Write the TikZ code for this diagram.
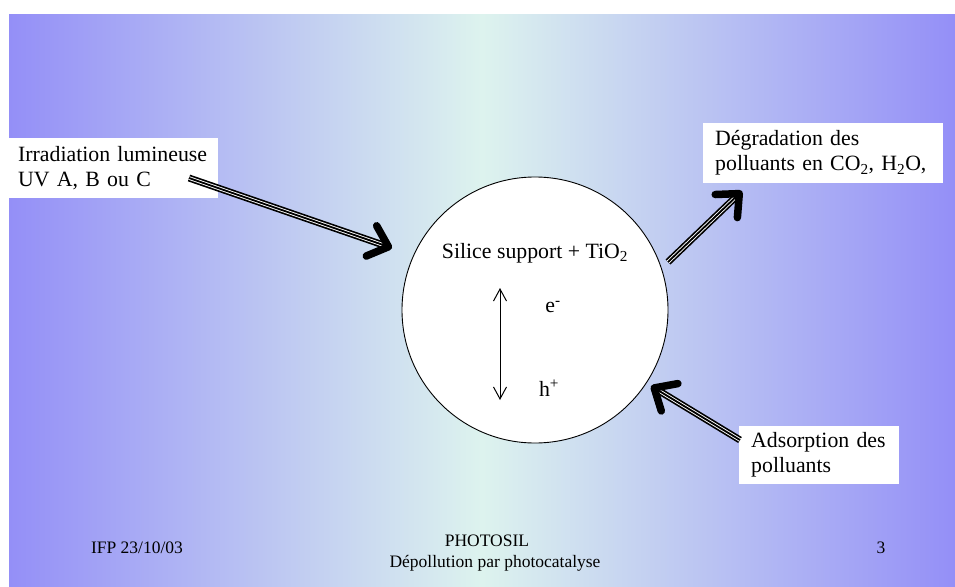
\documentclass[tikz,border=0pt]{standalone}
\usepackage{fontspec}
\setmainfont{Liberation Serif}
\usetikzlibrary{arrows.meta,calc}
\definecolor{edgeblue}{RGB}{148,143,247}
\definecolor{midgreen}{RGB}{221,243,238}
\begin{document}
\begin{tikzpicture}[x=1pt,y=-1pt,
  box/.style={fill=white, anchor=north west, inner ysep=0pt, align=left,
    font=\fontsize{21.8pt}{25pt}\selectfont},
  txt/.style={inner sep=0pt, font=\fontsize{21.8pt}{25pt}\selectfont},
  foot/.style={inner sep=0pt, font=\fontsize{17.5pt}{21pt}\selectfont},
  shaft/.style={draw=black, line width=7pt, shorten >=6pt,
    postaction={draw=white, line width=3.6pt, shorten >=6pt},
    postaction={draw=black, line width=1.8pt, shorten >=6pt}},
  head/.style={draw=black, line width=1pt,
    -{Straight Barb[length=18pt, width=32pt, line width=7.5pt, round]}},
  thinarrow/.style={draw=black, line width=1pt,
    {Straight Barb[length=12pt, width=13pt]}-{Straight Barb[length=12pt, width=13pt]}}
]
\useasboundingbox (0,0) rectangle (955,586);
\fill[white] (0,0) rectangle (955,586);
\shade[left color=edgeblue, right color=edgeblue, middle color=midgreen] (9,15) rectangle (955,586);

% boxes
\node[box, minimum width=209pt, minimum height=60pt, text width=191pt, inner xsep=9pt] (irr) at (9,138)
  {Irradiation~lumineuse\\UV~A,~B~ou~C};
\node[box, minimum width=240pt, minimum height=60pt, text width=216pt, inner xsep=12pt] (deg) at (703,123)
  {Dégradation~des\\polluants~en~CO\textsubscript{2},~H\textsubscript{2}O,};
\node[box, minimum width=160pt, minimum height=58pt, text width=136pt, inner xsep=12pt] (ads) at (739,426)
  {Adsorption~des\\polluants};

% circle
\node[circle, draw=black, fill=white, minimum size=266pt, inner sep=0pt, line width=0.9pt] (cat) at (535,310) {};
\node[txt] (sil) at (535,253) {Silice support + TiO\textsubscript{2}};
\node[txt] (el) at (553,307) {e\textsuperscript{-}};
\node[txt] (ho) at (549,388) {h\textsuperscript{+}};
\coordinate (vt) at (500,288);
\coordinate (vb) at (500,400);
\draw[thinarrow] (vt) -- (vb);

% big arrows
\coordinate (a1s) at (189,178);
\coordinate (a1e) at (392,248);
\coordinate (a2s) at (668,262);
\coordinate (a2e) at (742,191);
\coordinate (a3s) at (740,440);
\coordinate (a3e) at (651,386);
\draw[shaft] (a1s) -- (a1e);
\draw[head] ($(a1e)!40pt!(a1s)$) -- (a1e);
\draw[shaft] (a2s) -- (a2e);
\draw[head] ($(a2e)!40pt!(a2s)$) -- (a2e);
\draw[shaft] (a3s) -- (a3e);
\draw[head] ($(a3e)!40pt!(a3s)$) -- (a3e);

% footer
\node[foot] (ifp) at (137,548) {IFP 23/10/03};
\node[foot] (ph) at (487,541) {PHOTOSIL};
\node[foot] (dep) at (495,563) {Dépollution par photocatalyse};
\node[foot] (pg) at (881,548) {3};
\end{tikzpicture}
\end{document}
